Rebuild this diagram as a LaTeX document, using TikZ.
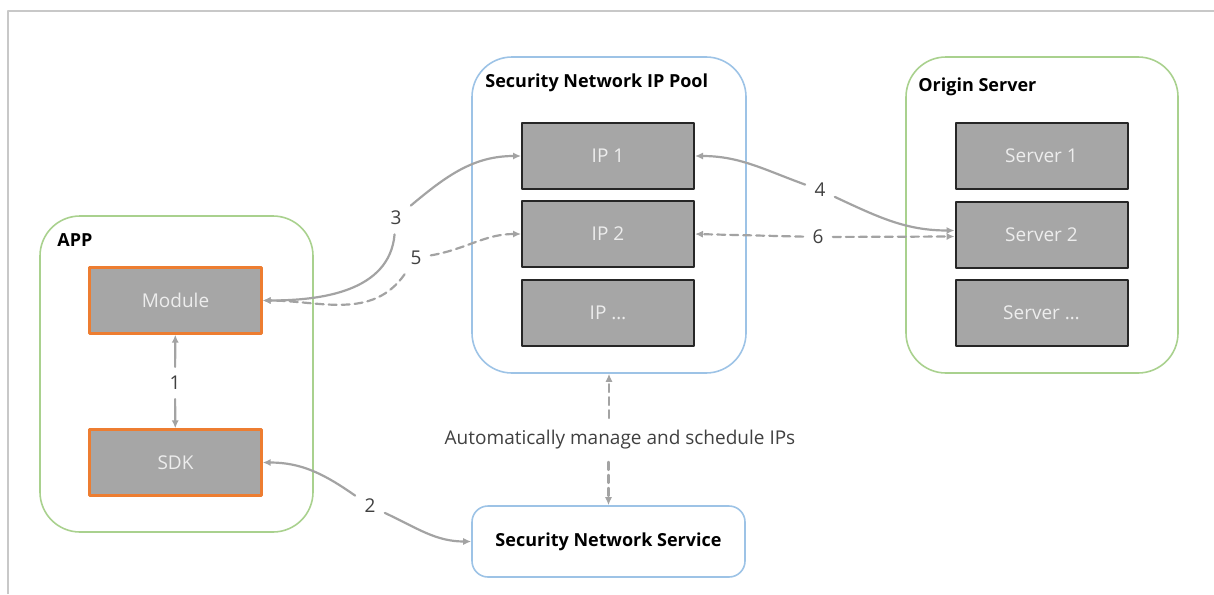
\documentclass[tikz,border=0pt]{standalone}
\usepackage{fontspec}
\setmainfont{Open Sans}
\usetikzlibrary{arrows.meta}
\definecolor{framegray}{HTML}{C8C8C8}
\definecolor{appgreen}{HTML}{A9D18E}
\definecolor{poolblue}{HTML}{9DC3E6}
\definecolor{boxgray}{HTML}{A6A6A6}
\definecolor{boxtext}{HTML}{EDEDED}
\definecolor{modorange}{HTML}{ED7D31}
\definecolor{linkgray}{HTML}{A3A3A3}
\definecolor{numgray}{HTML}{404040}
\begin{document}
\begin{tikzpicture}[x=0.5pt,y=0.5pt,line cap=round,line join=round,>={Latex[length=4pt,width=3.6pt]},
  group/.style={draw,line width=0.8pt,rounded corners=20pt,minimum width=136.5pt,minimum height=158pt},
  title/.style={font=\fontsize{9}{11}\selectfont\bfseries,anchor=west,inner sep=0pt},
  item/.style={draw=black!85,line width=1pt,fill=boxgray,text=boxtext,minimum width=86pt,minimum height=33pt,font=\fontsize{9.5}{11}\selectfont},
  module/.style={item,draw=modorange,line width=1.2pt},
  num/.style={text=numgray,font=\fontsize{9.5}{11}\selectfont,inner sep=4.5pt},
  link/.style={draw=linkgray,line width=1.1pt},
  flow/.style={link,dash pattern=on 4pt off 2.5pt}]
  \useasboundingbox (0,0) rectangle (1214,-594);
  \draw[framegray,line width=1pt,line cap=butt] (8,-594) -- (8,-11) -- (1214,-11);
  % groups
  \node[group,draw=appgreen] (app) at (176.5,-374) {};
  \node[group,draw=poolblue,minimum width=137pt] (pool) at (609,-215) {};
  \node[group,draw=appgreen,minimum width=136pt] (origin) at (1042,-215) {};
  \node[group,draw=poolblue,rounded corners=8pt,minimum height=35.5pt,
    font=\fontsize{9}{11}\selectfont\bfseries] (service) at (608.5,-541.5) {Security Network Service};
  \node[title] at (57,-240) {APP};
  \node[title] at (485,-83) {Security Network IP Pool};
  \node[title] at (918,-87) {Origin Server};
  % boxes
  \node[module] (module) at (175.5,-300.5) {Module};
  \node[module] (sdk) at (175.5,-462.5) {SDK};
  \foreach \n/\y/\t in {ip1/-156/IP 1,ip2/-234/IP 2,ipn/-313/IP \dots}
    \node[item] (\n) at (608,\y) {\t};
  \foreach \n/\y/\t in {srv1/-156/Server 1,srv2/-234.5/Server 2,srvn/-312.5/Server \dots}
    \node[item] (\n) at (1041.5,\y) {\t};
  % labels
  \node[num] (n1) at (175,-383) {1};
  \node[num] (n2) at (370,-506) {2};
  \node[num] (n3) at (396,-218) {3};
  \node[num] (n4) at (820,-190) {4};
  \node[num] (n5) at (416,-258) {5};
  \node[num] (n6) at (818,-237) {6};
  \node[num,inner sep=6pt] (auto) at (620,-440) {Automatically manage and schedule IPs};
  % links
  \draw[link,->] (n1) -- (module);
  \draw[link,->] (n1) -- (sdk);
  \draw[link,->] (n2) to[out=145,in=0] (sdk.east);
  \draw[link,->] (n2) to[out=-25,in=180] (service.west);
  \draw[link,->] (n3) to[out=-95,in=0] (module.east);
  \draw[link,->] (n3) to[out=40,in=180] (ip1.west);
  \draw[link,->] (n4) to[out=160,in=0] (ip1.east);
  \draw[link,->] (n4) to[out=-25,in=180] ([yshift=2pt]srv2.west);
  \draw[flow,->] (n5) to[out=-125,in=0] (module.east);
  \draw[flow,->] (n5) to[out=10,in=180] (ip2.west);
  \draw[flow,->] (n6) -- (ip2.east);
  \draw[flow,->] (n6) -- ([yshift=-1pt]srv2.west);
  \draw[flow,->] (auto.north -| pool.south) -- (pool.south);
  \draw[flow,->] (auto.south -| service.north) -- (service.north);
\end{tikzpicture}
\end{document}
